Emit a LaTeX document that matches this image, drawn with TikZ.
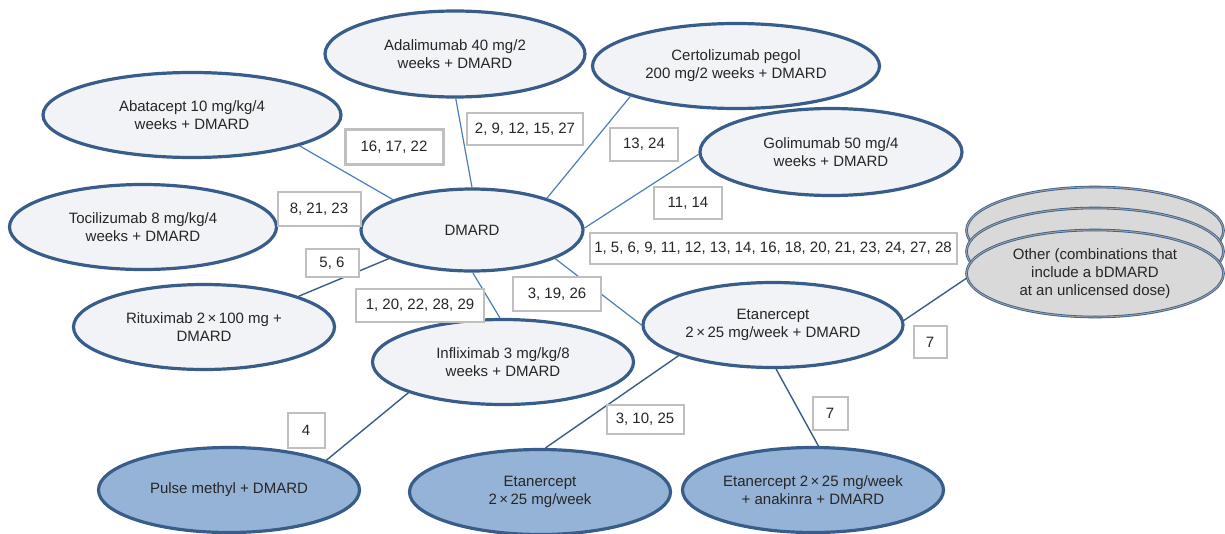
\documentclass[tikz,border=0pt]{standalone}
\usepackage{fontspec}
\setmainfont{Liberation Sans}
\usetikzlibrary{shapes.geometric}
\definecolor{edgeblue}{HTML}{385D8A}
\definecolor{lineblue}{HTML}{4A7EBB}
\definecolor{lightfill}{HTML}{F2F3F6}
\definecolor{darkfill}{HTML}{95B3D7}
\definecolor{otherfill}{HTML}{D9D9D9}
\definecolor{boxgray}{HTML}{BFBFBF}
\definecolor{txt}{HTML}{262626}
\begin{document}
\begin{tikzpicture}[x=1pt,y=-1pt,
  every node/.style={font=\fontsize{15}{18}\selectfont, text=txt},
  ell/.style={ellipse, draw=edgeblue, line width=3.2pt, fill=lightfill, inner sep=0pt,
              minimum width=#1, minimum height=85pt, align=center},
  ell/.default=261pt,
  dell/.style={ell=261pt, fill=darkfill},
  oell/.style={ellipse, draw=edgeblue, double=gray!75, double distance=1pt, line width=0.8pt,
               fill=otherfill, inner sep=0pt, minimum width=257pt, minimum height=87pt, align=center},
  lbl/.style={draw=boxgray, line width=2pt, fill=white, inner sep=0pt, align=center},
  lconn/.style={draw=lineblue, line width=1.2pt},
  dconn/.style={draw=edgeblue, line width=1.4pt}]
\useasboundingbox (0,0) rectangle (1225,533);

% nodes
\node[ell=298pt] (abat) at (192,115) {Abatacept 10 mg/kg/4\\weeks + DMARD};
\node[ell=267pt] (toci) at (143,227) {Tocilizumab 8 mg/kg/4\\weeks + DMARD};
\node[ell=260pt, minimum height=86pt] (adal) at (455,54) {Adalimumab 40 mg/2\\weeks + DMARD};
\node[ell=287pt] (cert) at (736,66) {Certolizumab pegol\\200 mg/2 weeks + DMARD};
\node[ell=262pt, minimum height=87pt] (goli) at (831,152) {Golimumab 50 mg/4\\weeks + DMARD};
\node[ell=222pt, minimum height=82pt] (dmard) at (472,230) {DMARD};
\node[ell=261pt] (ritu) at (204,327) {Rituximab 2\,×\,100 mg +\\DMARD};
\node[ell=261pt] (infl) at (503,362) {Infliximab 3 mg/kg/8\\weeks + DMARD};
\node[ell=260pt] (etan) at (773,325) {Etanercept\\2\,×\,25 mg/week + DMARD};
\node[oell] (oth1) at (1095,230.5) {};
\node[oell] (oth2) at (1095,251.5) {};
\node[oell] (other) at (1095,273.5) {Other (combinations that\\include a bDMARD\\at an unlicensed dose)};
\node[dell] (pulse) at (229,490) {Pulse methyl + DMARD};
\node[dell] (etmono) at (540,492) {Etanercept\\2\,×\,25 mg/week};
\node[dell] (anak) at (813,490) {Etanercept 2\,×\,25 mg/week\\+ anakinra + DMARD};

% connectors
\draw[lconn] (abat.-16) -- (dmard.159);
\draw[lconn] (adal.-89) -- (dmard.90);
\draw[lconn] (cert.196) -- (dmard.23);
\draw[lconn] (goli.181) -- (dmard.1);
\draw[dconn] (ritu.18) -- (dmard.199);
\draw[lconn] (infl.94) -- (dmard.-89);
\draw[lconn] (dmard.-19) -- (etan.180);
\draw[dconn] (etan.2) -- (other.-178);
\draw[dconn] (etan.198.6) -- (etmono.83.5);
\draw[dconn] (etan.-86) -- (anak.83);
\draw[dconn] (infl.198) -- (pulse.17.4);

% labels
\node[lbl, line width=3pt, minimum width=98pt, minimum height=35pt] (l1) at (394,147) {16, 17, 22};
\node[lbl, minimum width=116pt, minimum height=32pt] (l2) at (525,129) {2, 9, 12, 15, 27};
\node[lbl, minimum width=68pt, minimum height=33pt] (l3) at (644,144) {13, 24};
\node[lbl, minimum width=68pt, minimum height=32pt] (l4) at (688,203) {11, 14};
\node[lbl, minimum width=83pt, minimum height=34pt] (l5) at (319,209) {8, 21, 23};
\node[lbl, minimum width=53pt, minimum height=28pt] (l6) at (332,263) {5, 6};
\node[lbl, minimum width=367pt, minimum height=31pt] (l7) at (773,248) {1, 5, 6, 9, 11, 12, 13, 14, 16, 18, 20, 21, 23, 24, 27, 28};
\node[lbl, minimum width=128pt, minimum height=33pt] (l8) at (420,305) {1, 20, 22, 28, 29};
\node[lbl, minimum width=88pt, minimum height=34pt] (l9) at (557,294) {3, 19, 26};
\node[lbl, minimum width=33pt, minimum height=32pt] (l10) at (930,342) {7};
\node[lbl, minimum width=37pt, minimum height=35pt] (l11) at (306,430) {4};
\node[lbl, minimum width=77pt, minimum height=29pt] (l12) at (645,419) {3, 10, 25};
\node[lbl, minimum width=35pt, minimum height=33pt] (l13) at (830,413) {7};
\end{tikzpicture}
\end{document}
